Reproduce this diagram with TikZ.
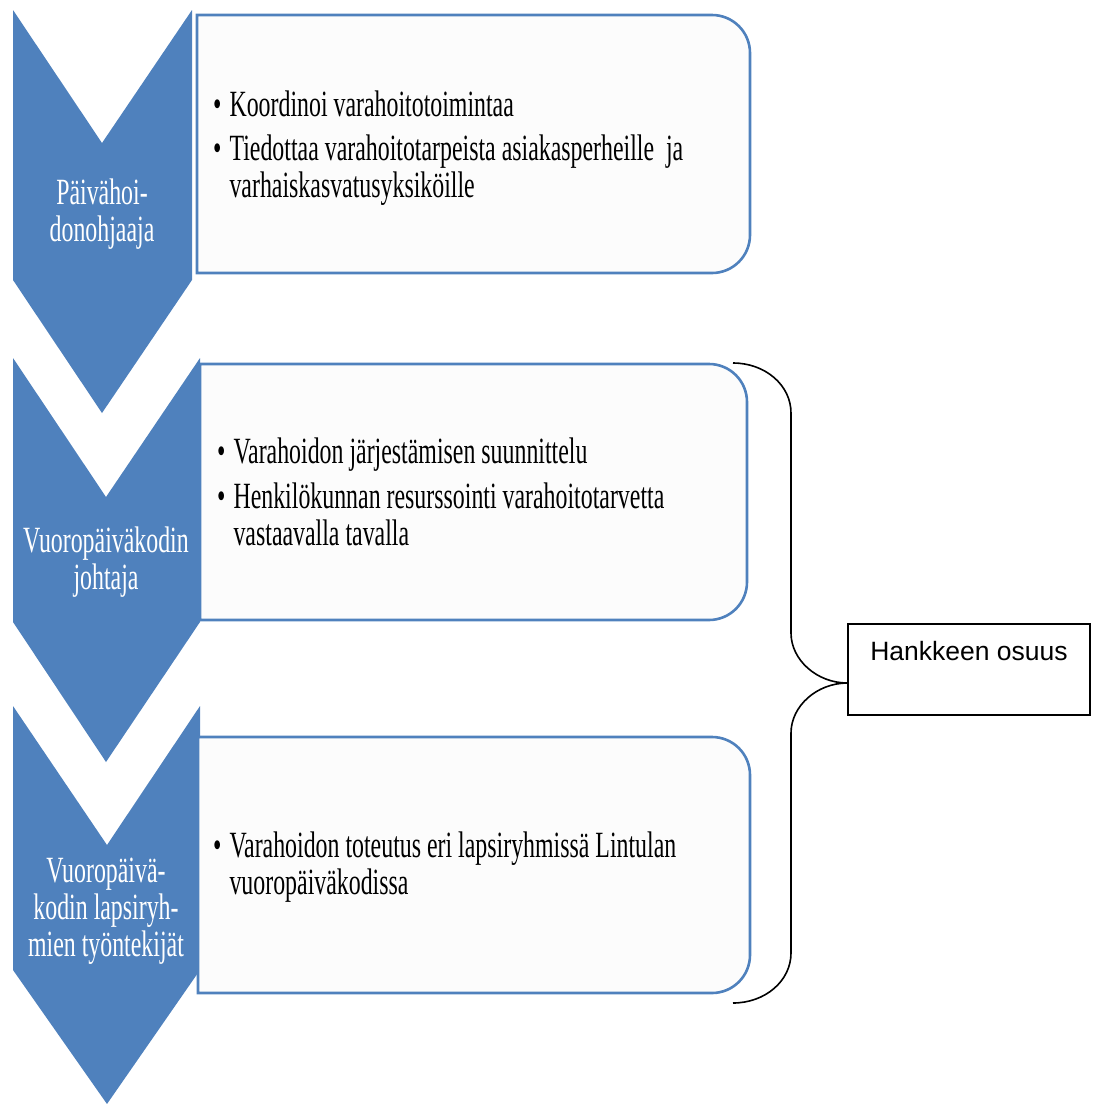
\documentclass[tikz,border=0pt]{standalone}
\usepackage{fontspec}
\setmainfont[FakeStretch=0.645]{Liberation Serif}
\newfontfamily\hksans{Liberation Sans}
\usetikzlibrary{positioning}
\definecolor{chev}{HTML}{4F81BD}
\definecolor{boxbg}{HTML}{FCFCFC}

\begin{document}
\begin{tikzpicture}[x=1pt,y=-1pt,
  chevron/.style={fill=chev,draw=none},
  rbox/.style={draw=chev,line width=2.6pt,fill=boxbg},
  chtxt/.style={text=white,align=center,inner sep=0pt,font=\fontsize{37}{37}\selectfont},
  item/.style={anchor=base west,inner sep=0pt,font=\fontsize{37}{37}\selectfont},
  hkbox/.style={draw,line width=1.3pt,inner sep=0pt,minimum width=242pt,
    text height=36pt,text depth=55pt,font=\hksans\fontsize{26.5}{30}\selectfont},
  brace/.style={draw,line width=1.6pt}]
  \useasboundingbox (0,0) rectangle (1093,1104);
  % chevrons
  \path[chevron] (13,10) -- (102,143) -- (192,10) -- (192,280) -- (102,413) -- (13,280) -- cycle;
  \path[chevron] (13,358) -- (106,497) -- (200,358) -- (200,622) -- (106,762) -- (13,622) -- cycle;
  \path[chevron] (13,706) -- (107,845) -- (200,706) -- (200,970) -- (107,1104) -- (13,970) -- cycle;
  \node[chtxt](c1) at (102,214){Päivähoi-\\donohjaaja};
  \node[chtxt](c2) at (106,562){Vuoropäiväkodin\\johtaja};
  \node[chtxt](c3) at (106,911){Vuoropäivä-\\kodin lapsiryh-\\mien työntekijät};
  % boxes with rounded right side
  \draw[rbox] (197,15) -- (712,15) arc[start angle=-90,end angle=0,radius=38] -- (750,235)
    arc[start angle=0,end angle=90,radius=38] -- (197,273) -- cycle;
  \draw[rbox] (200,364) -- (709,364) arc[start angle=-90,end angle=0,radius=38] -- (747,582)
    arc[start angle=0,end angle=90,radius=38] -- (200,620) -- cycle;
  \draw[rbox] (198,737) -- (712,737) arc[start angle=-90,end angle=0,radius=38] -- (750,955)
    arc[start angle=0,end angle=90,radius=38] -- (198,993) -- cycle;
  \node[item](t1) at (213,116){\begin{tabular}[t]{@{}l@{\hspace{8pt}}l@{}}\textbullet & Koordinoi varahoitotoimintaa\end{tabular}};
  \node[item](t2) at (213,160){\begin{tabular}[t]{@{}l@{\hspace{8pt}}l@{}}\textbullet & Tiedottaa varahoitotarpeista asiakasperheille\ \ ja\\ & varhaiskasvatusyksiköille\end{tabular}};
  \node[item](t3) at (217,463){\begin{tabular}[t]{@{}l@{\hspace{8pt}}l@{}}\textbullet & Varahoidon järjestämisen suunnittelu\end{tabular}};
  \node[item](t4) at (217,508){\begin{tabular}[t]{@{}l@{\hspace{8pt}}l@{}}\textbullet & Henkilökunnan resurssointi varahoitotarvetta\\ & vastaavalla tavalla\end{tabular}};
  \node[item](t5) at (213,857){\begin{tabular}[t]{@{}l@{\hspace{8pt}}l@{}}\textbullet & Varahoidon toteutus eri lapsiryhmissä Lintulan\\ & vuoropäiväkodissa\end{tabular}};
  % project share
  \node[hkbox](hk) at (969,669.5){Hankkeen osuus};
  \coordinate (btop) at (733,363);
  \coordinate (bbot) at (733,1003);
  \coordinate (tip) at ([yshift=-13.5pt]hk.west);
  \draw[brace] (btop) .. controls (765,363) and (791,385) .. (791,413) -- (791,633)
    .. controls (791,660) and (817,683) .. (tip)
    .. controls (817,683) and (791,706) .. (791,733) -- (791,953)
    .. controls (791,981) and (765,1003) .. (bbot);
\end{tikzpicture}
\end{document}
